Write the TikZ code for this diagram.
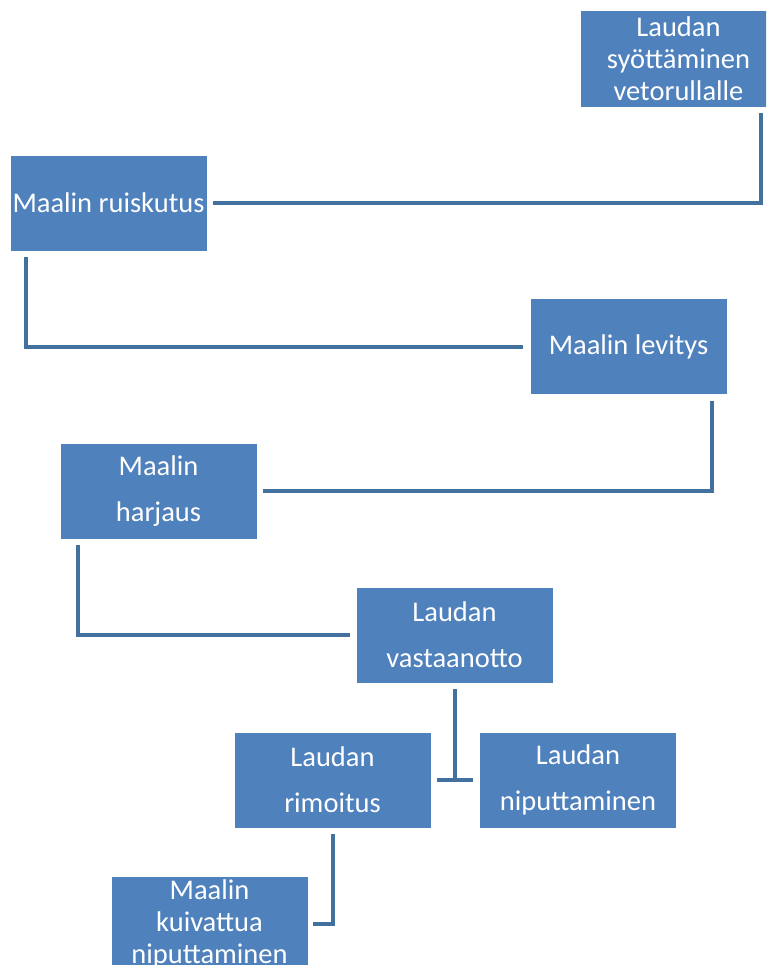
\documentclass[tikz,border=0pt]{standalone}
\usepackage{fontspec}
\setmainfont{Carlito}
\usetikzlibrary{calc}
\definecolor{boxfill}{HTML}{4F81BD}
\definecolor{linecol}{HTML}{41719C}
\tikzset{
  stepbox/.style={rectangle, fill=boxfill, draw=white, line width=0.6pt,
    minimum width=197pt, minimum height=96pt, inner sep=0pt, text=white,
    align=center},
  threeline/.style={font=\fontsize{28.5}{32}\selectfont},
  twoline/.style={font=\fontsize{28.5}{46}\selectfont},
  conn/.style={draw=linecol, line width=4pt, line join=miter, line cap=butt}
}
\begin{document}
\begin{tikzpicture}[x=1pt,y=-1pt]
\useasboundingbox (0,0) rectangle (766,965);
\clip (0,0) rectangle (766,965);
\fill[white] (0,0) rectangle (766,965);

\node[stepbox,threeline, minimum height=97pt] (b1) at (678.5,58.5) {Laudan\\syöttäminen\\vetorullalle};
\node[stepbox,twoline] (b2) at (108.5,203) {Maalin ruiskutus};
\node[stepbox,twoline] (b3) at (628.5,346.5) {Maalin levitys};
\node[stepbox,twoline] (b4) at (158.5,491) {Maalin\\harjaus};
\node[stepbox,twoline] (b5) at (454.5,635) {Laudan\\vastaanotto};
\node[stepbox,twoline] (b6) at (332.5,780) {Laudan\\rimoitus};
\node[stepbox,twoline] (b7) at (578,780) {Laudan\\niputtaminen};
\node[stepbox,threeline] (b8) at (209.5,924) {Maalin\\kuivattua\\niputtaminen};

\draw[conn] ($(b1.south east)+(-16,6)$) |- ($(b2.east)+(6,0)$);
\draw[conn] ($(b2.south west)+(16,6)$) |- ($(b3.west)+(-7,0)$);
\draw[conn] ($(b3.south east)+(-15,6)$) |- ($(b4.east)+(6,0)$);
\draw[conn] ($(b4.south west)+(18,6)$) |- ($(b5.west)+(-6,0)$);
\draw[conn] ($(b5.south)+(0,6)$) -- (b5.south |- b6.east);
\draw[conn] ($(b6.east)+(6,0)$) -- ($(b7.west)+(-6,0)$);
\draw[conn] ($(b6.south)+(0,6)$) |- ($(b8.east)+(5,0)$);
\end{tikzpicture}
\end{document}
